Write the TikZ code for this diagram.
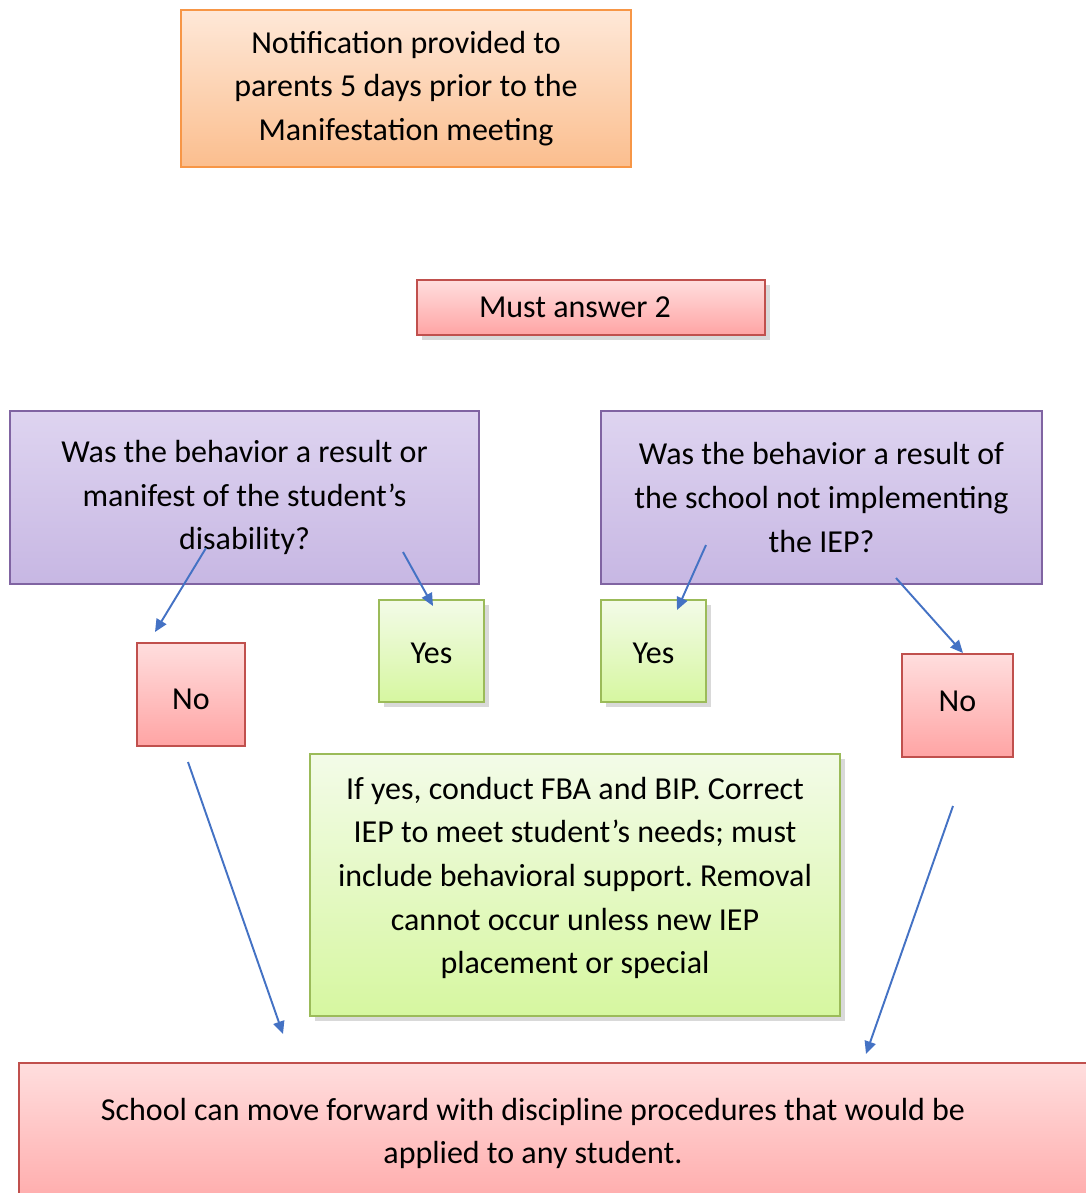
\documentclass[tikz,border=0pt]{standalone}
\usepackage{fontspec}
\setmainfont{Carlito}
\usetikzlibrary{arrows.meta,shadows}

\definecolor{orangeline}{RGB}{247,150,70}
\definecolor{orangetop}{RGB}{254,232,216}
\definecolor{orangebot}{RGB}{251,190,142}
\definecolor{redline}{RGB}{192,80,77}
\definecolor{redtop}{RGB}{255,222,222}
\definecolor{redbot}{RGB}{255,164,164}
\definecolor{purpleline}{RGB}{128,100,162}
\definecolor{purpletop}{RGB}{222,212,240}
\definecolor{purplebot}{RGB}{199,183,227}
\definecolor{greenline}{RGB}{155,187,89}
\definecolor{greentop}{RGB}{243,251,232}
\definecolor{greenbot}{RGB}{214,247,160}
\definecolor{linkblue}{RGB}{68,114,196}
\frenchspacing

\begin{document}
\begin{tikzpicture}[
x=0.01cm, y=-0.01cm,
font=\fontsize{9.1}{12.4}\selectfont,
box/.style={rectangle, draw, line width=0.6pt, align=center, inner sep=0pt},
orangebox/.style={box, draw=orangeline, top color=orangetop, bottom color=orangebot},
redbox/.style={box, draw=redline, top color=redtop, bottom color=redbot},
purplebox/.style={box, draw=purpleline, top color=purpletop, bottom color=purplebot},
greenbox/.style={box, draw=greenline, top color=greentop, bottom color=greenbot},
shadowed/.style={drop shadow={shadow xshift=1.5pt, shadow yshift=-1.5pt, opacity=0.25, fill=black!60}},
link/.style={draw=linkblue, line width=0.55pt, -{Triangle[length=3.6pt,width=3.2pt]}}
]
\useasboundingbox (0,0) rectangle (1086,1193);

% boxes
\node[orangebox, minimum width=4.5cm, minimum height=1.57cm] (note) at (406,88.5)
  {Notification provided to\\parents 5 days prior to the\\Manifestation meeting};
\node[redbox, shadowed, minimum width=3.48cm, minimum height=0.55cm] (must) at (591,307.5)
  {Must answer 2\hspace*{0.32cm}};

\node[purplebox, minimum width=4.69cm, minimum height=1.73cm] (qdis) at (244.5,497.5)
  {Was the behavior a result or\\manifest of the student's\\disability?};
\node[purplebox, minimum width=4.41cm, minimum height=1.73cm] (qiep) at (821.5,497.5)
  {Was the behavior a result of\\the school not implementing\\the IEP?};

\node[redbox, minimum width=1.08cm, minimum height=1.03cm] (nol) at (191,694.5)
  {\raisebox{-0.05cm}[\height][\depth]{No}};
\node[greenbox, shadowed, minimum width=1.05cm, minimum height=1.02cm] (yesl) at (431.5,651)
  {\raisebox{-0.02cm}[\height][\depth]{Yes}};
\node[greenbox, shadowed, minimum width=1.05cm, minimum height=1.02cm] (yesr) at (653.5,651)
  {\raisebox{-0.02cm}[\height][\depth]{Yes}};
\node[redbox, minimum width=1.11cm, minimum height=1.03cm] (nor) at (957.5,705.5)
  {\raisebox{0.04cm}[\height][\depth]{No}};

\node[greenbox, shadowed, minimum width=5.3cm, minimum height=2.62cm] (fix) at (575,885) {};
\node[align=center] (fixtext) at (575,878)
  {If yes, conduct FBA and BIP. Correct\\IEP to meet student's needs; must\\include behavioral support. Removal\\cannot occur unless new IEP\\placement or special};

\node[redbox, minimum width=10.9cm, minimum height=1.6cm] (disc) at (564,1143) {};
\node[align=center] (disctext) at (533,1133.5)
  {School can move forward with discipline procedures that would be\\applied to any student.};

% arrow ends
\coordinate (a1) at (206,548);
\coordinate (b1) at (155,632);
\coordinate (a2) at (403,552);
\coordinate (b2) at (433,606);
\coordinate (a3) at (706,545);
\coordinate (b3) at (677,610);
\coordinate (a4) at (896,578);
\coordinate (b4) at (963,653);
\coordinate (a5) at (188,762);
\coordinate (b5) at (283,1034);
\coordinate (a6) at (953,806);
\coordinate (b6) at (866,1054);

% arrows
\draw[link] (a1) -- (b1);
\draw[link] (a2) -- (b2);
\draw[link] (a3) -- (b3);
\draw[link] (a4) -- (b4);
\draw[link] (a5) -- (b5);
\draw[link] (a6) -- (b6);

\end{tikzpicture}
\end{document}
